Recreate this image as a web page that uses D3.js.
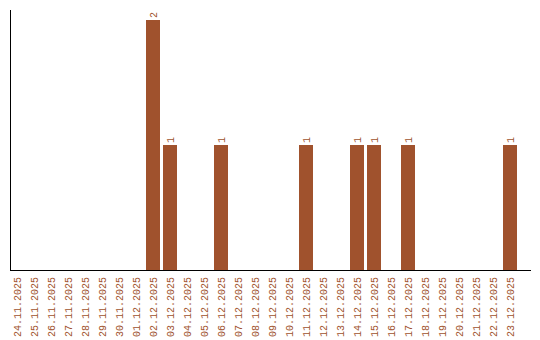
<!DOCTYPE html>
<html>
<head>
<meta charset="utf-8">
<script src="https://cdn.jsdelivr.net/npm/d3@7"></script>
<style>
  body { margin: 0; background: #fff; }
  text { font-family: "Liberation Mono", "Courier New", monospace; font-size: 10px; fill: #a0522d; }
</style>
</head>
<body>
<div id="chart"></div>
<script>
var days = ["24.11.2025","25.11.2025","26.11.2025","27.11.2025","28.11.2025","29.11.2025",
    "30.11.2025","01.12.2025","02.12.2025","03.12.2025","04.12.2025","05.12.2025",
    "06.12.2025","07.12.2025","08.12.2025","09.12.2025","10.12.2025","11.12.2025",
    "12.12.2025","13.12.2025","14.12.2025","15.12.2025","16.12.2025","17.12.2025",
    "18.12.2025","19.12.2025","20.12.2025","21.12.2025","22.12.2025","23.12.2025"]
var counts = [0,0,0,0,0,0,0,0,2,1,0,0,1,0,0,0,0,1,0,0,1,1,0,1,0,0,0,0,0,1]

var width = 540, height = 340
var left = 10, base = 270

var svg = d3.select("#chart")
    .append("svg")
        .attr("width", width)
        .attr("height", height)

var x = d3.scaleBand()
    .domain(days)
    .range([left, left + 507])
    .paddingInner(3 / 17)
    .paddingOuter(0)

var y = d3.scaleLinear()
    .domain([0, 2])
    .range([base, 20])

// bars
svg.selectAll("rect.bar")
    .data(days)
    .enter()
    .append("rect")
        .attr("class", "bar")
        .attr("x", function(d) { return x(d) })
        .attr("y", function(d, i) { return y(counts[i]) })
        .attr("width", x.bandwidth())
        .attr("height", function(d, i) { return base - y(counts[i]) })
        .attr("fill", "#a0522d")

// value labels
svg.selectAll("text.val")
    .data(days.filter(function(d, i) { return counts[i] > 0 }))
    .enter()
    .append("text")
        .attr("class", "val")
        .attr("transform", function(d) {
            var cx = x(d) + x.bandwidth() / 2
            return "translate(" + (cx + 3.5) + "," + (y(counts[days.indexOf(d)]) - 2) + ") rotate(-90)"
        })
        .text(function(d) { return counts[days.indexOf(d)] })

// axes lines
svg.append("line")
    .attr("x1", left + 0.5).attr("x2", left + 0.5)
    .attr("y1", 10).attr("y2", base)
    .attr("stroke", "#000")
svg.append("line")
    .attr("x1", left).attr("x2", 531)
    .attr("y1", base + 0.5).attr("y2", base + 0.5)
    .attr("stroke", "#000")

// date labels
svg.selectAll("text.day")
    .data(days)
    .enter()
    .append("text")
        .attr("class", "day")
        .attr("text-anchor", "end")
        .attr("transform", function(d) {
            return "translate(" + (x(d) + x.bandwidth() / 2 + 3.5) + ",277) rotate(-90)"
        })
        .text(function(d) { return d })
</script>
</body>
</html>
